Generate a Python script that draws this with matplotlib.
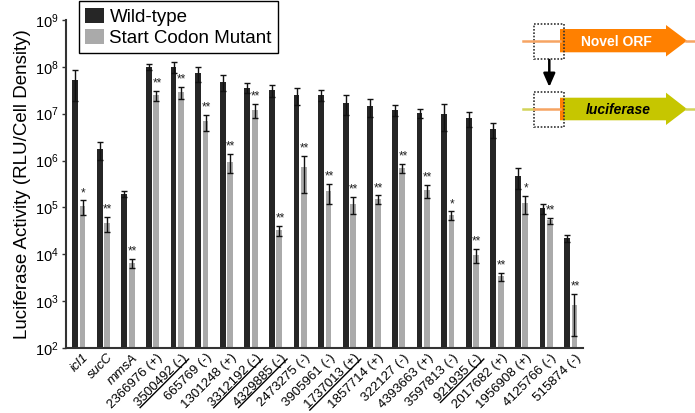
import numpy as np
import matplotlib
matplotlib.use("Agg")
import matplotlib.pyplot as plt
from matplotlib.patches import Polygon, Rectangle
from matplotlib.lines import Line2D
from matplotlib.transforms import IdentityTransform, ScaledTranslation

plt.rcParams["font.family"] = ["Liberation Sans", "DejaVu Sans"]
plt.rcParams["mathtext.fontset"] = "custom"
plt.rcParams["mathtext.rm"] = "Liberation Sans"
plt.rcParams["mathtext.it"] = "Liberation Sans:italic"
plt.rcParams["mathtext.bf"] = "Liberation Sans:bold"

# ======================================
# DATA
# ======================================

labels = ["icl1", "sucC", "mmsA", "2366976 (+)", "3500492 (-)", "665769 (-)",
          "1301248 (+)", "3312192 (-)", "4329885 (-)", "2473275 (-)", "3905961 (-)",
          "1737013 (+)", "1857714 (+)", "322127 (-)", "4393663 (+)", "3597813 (-)",
          "921935 (-)", "2017682 (+)", "1956908 (+)", "4125766 (-)", "515874 (-)"]
italic_labels = ["icl1", "sucC", "mmsA"]
underlined = ["3500492 (-)", "3312192 (-)", "4329885 (-)", "1737013 (+)", "921935 (-)"]

wt_mean = [5.2e7, 1.75e6, 1.95e5, 1.0e8, 1.0e8, 7.2e7, 4.8e7, 3.6e7, 3.2e7, 2.5e7, 2.5e7,
           1.7e7, 1.45e7, 1.2e7, 1.02e7, 1.0e7, 7.9e6, 4.7e6, 4.7e5, 9.6e4, 2.2e4]
wt_sd = [3.3e7, 7.0e5, 2.5e4, 1.6e7, 2.5e7, 2.5e7, 1.8e7, 9.0e6, 9.0e6, 1.0e7, 6.5e6,
         7.5e6, 6.0e6, 3.3e6, 2.2e6, 5.8e6, 2.7e6, 1.7e6, 2.2e5, 2.2e4, 3.5e3]

mut_mean = [1.05e5, 4.65e4, 6.6e3, 2.5e7, 2.85e7, 6.8e6, 9.5e5, 1.2e7, 3.25e4, 7.2e5, 2.2e5,
            1.2e5, 1.5e5, 6.9e5, 2.3e5, 6.8e4, 9.9e3, 3.4e3, 1.24e5, 5.3e4, 8.2e2]
mut_sd = [3.6e4, 1.6e4, 1.5e3, 6.0e6, 8.0e6, 2.5e6, 4.2e5, 3.9e6, 7.5e3, 5.2e5, 1.0e5,
          4.6e4, 3.0e4, 1.5e5, 7.0e4, 1.4e4, 3.3e3, 7.0e2, 5.1e4, 8.0e3, 6.4e2]

stars = ["*", "**", "**", "**", "**", "**", "**", "**", "**", "**", "**",
         "**", "**", "**", "**", "*", "**", "**", "*", "**", "**"]

# ======================================
# FIGURE
# ======================================

fig = plt.figure(figsize=(6.95, 4.13), dpi=100)
ax = fig.add_axes([0.095, 0.157, 0.744, 0.795])

x = np.arange(len(labels))
w = 0.24
off = 0.15

ax.bar(x - off, wt_mean, width=w, color="#262626", label="Wild-type", zorder=2)
ax.bar(x + off, mut_mean, width=w, color="#aaaaaa", label="Start Codon Mutant", zorder=2)

ax.errorbar(x - off, wt_mean, yerr=wt_sd, fmt="none", ecolor="#111111",
            elinewidth=1, capsize=2, capthick=1, zorder=3)
ax.errorbar(x + off, mut_mean, yerr=mut_sd, fmt="none", ecolor="#111111",
            elinewidth=1, capsize=2, capthick=1, zorder=3)

for xi, m, s, st in zip(x, mut_mean, mut_sd, stars):
    ax.annotate(st, (xi + off, m + s), xytext=(0.5, 1), textcoords="offset points",
                ha="center", va="bottom", fontsize=8.5, color="#222222")

ax.set_yscale("log")
ax.set_ylim(1e2, 1e9)
ax.set_xlim(-0.52, 20.5)
ax.yaxis.set_major_locator(matplotlib.ticker.LogLocator(base=10, numticks=10))
ax.yaxis.set_minor_locator(matplotlib.ticker.NullLocator())

ax.spines["top"].set_visible(False)
ax.spines["right"].set_visible(False)
for sp in ["left", "bottom"]:
    ax.spines[sp].set_color("#333333")
    ax.spines[sp].set_linewidth(1.5)

ax.tick_params(axis="y", length=3, width=1, color="#333333", labelsize=10.5, pad=2)
ax.tick_params(axis="x", length=0, pad=2.5)

ax.set_xticks(x)
ax.set_xticklabels(labels, rotation=45, ha="right", rotation_mode="anchor",
                   fontsize=9.5)
shift = ScaledTranslation(4 / 100, 0, fig.dpi_scale_trans)
for t, lab in zip(ax.get_xticklabels(), labels):
    t.set_transform(t.get_transform() + shift)
    if lab in italic_labels:
        t.set_fontstyle("italic")

ax.set_ylabel("Luciferase Activity (RLU/Cell Density)", fontsize=13.5, labelpad=3)

fig.legend(loc="upper left", bbox_to_anchor=(78.5 / 695, 1 - 1 / 413),
           fontsize=13.5, frameon=True, fancybox=False, edgecolor="black",
           framealpha=1, borderaxespad=0, handlelength=1.0, handleheight=0.9,
           handletextpad=0.3, labelspacing=0.15, borderpad=0.35)

# underline some tick labels (mathtext has no \underline)
fig.canvas.draw()
renderer = fig.canvas.get_renderer()
c = np.cos(np.pi / 4)
for t, lab in zip(ax.get_xticklabels(), labels):
    if lab not in underlined:
        continue
    bb = t.get_window_extent(renderer)
    tw, th, td = renderer.get_text_width_height_descent(lab, t.get_fontproperties(), ismath=False)
    hc = (bb.x1 - bb.x0) - tw * c
    h = hc / c
    px, py = bb.x1 - hc, bb.y1
    d = h - td + 1.5
    u = np.array([c, c])
    n = np.array([c, -c])
    p = np.array([px, py])
    a = p - tw * u + d * n
    b = p + d * n
    fig.add_artist(Line2D([a[0], b[0]], [a[1], b[1]], transform=IdentityTransform(),
                          color="black", lw=1))

# ======================================
# SCHEMATIC (pixel coordinates)
# ======================================

sx = fig.add_axes([0, 0, 1, 1], zorder=5)
sx.set_xlim(0, 695)
sx.set_ylim(413, 0)
sx.axis("off")
sx.patch.set_alpha(0)

orange = "#ff8000"
orange_line = "#f6a463"
lime = "#c6c600"
lime_line = "#d2d45a"

# top construct
sx.plot([523, 560], [40.7, 40.7], color=orange_line, lw=1.8)
sx.plot([686, 695], [40.7, 40.7], color=orange_line, lw=1.8)
sx.add_patch(Polygon([(560, 29), (666, 29), (666, 25), (687, 40.7), (666, 56.5),
                      (666, 52.3), (560, 52.3)], closed=True, color=orange, lw=0))
sx.text(616.5, 41.5, "Novel ORF", color="white", fontsize=10, fontweight="bold",
        ha="center", va="center")
sx.add_patch(Rectangle((533.5, 23.5), 30.5, 35, fill=False, ls=(0, (1, 1)),
                       lw=1.2, edgecolor="#333333"))

# arrow down
sx.annotate("", xy=(549.3, 87), xytext=(549.3, 60),
            arrowprops=dict(arrowstyle="-|>,head_width=0.35,head_length=0.8",
                            color="black", lw=1.8, shrinkA=0, shrinkB=0))

# bottom construct
sx.plot([523, 533.5], [109, 109], color=lime_line, lw=1.8)
sx.plot([533.5, 560], [109, 109], color=orange_line, lw=1.8)
sx.plot([686, 695], [109, 109], color=lime_line, lw=1.8)
sx.add_patch(Polygon([(560, 97.7), (666, 97.7), (666, 92.7), (687, 109), (666, 125),
                      (666, 120.3), (560, 120.3)], closed=True, color=lime, lw=0))
sx.add_patch(Rectangle((560, 97.7), 4, 22.6, color=orange, lw=0))
sx.text(618.3, 109.5, "luciferase", color="black", fontsize=10, fontweight="bold",
        fontstyle="italic", ha="center", va="center")
sx.add_patch(Rectangle((533.5, 91.7), 30.5, 35, fill=False, ls=(0, (1, 1)),
                       lw=1.2, edgecolor="#333333"))

fig.savefig("out.png", dpi=100)
